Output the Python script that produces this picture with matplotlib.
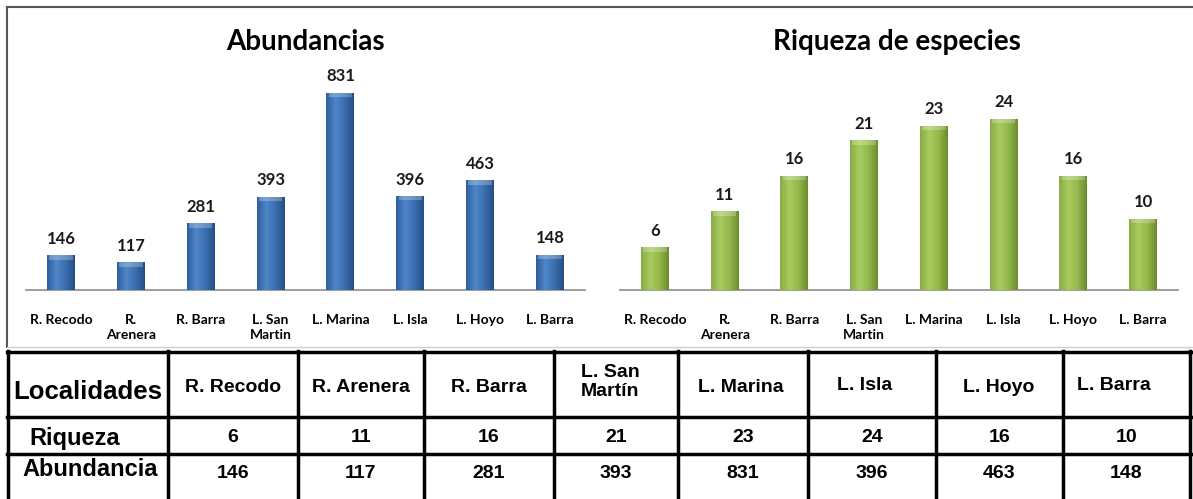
import matplotlib.pyplot as plt
import numpy as np
from matplotlib.colors import LinearSegmentedColormap
from matplotlib.patches import Rectangle
from matplotlib.lines import Line2D

# data
localidades = ["R. Recodo", "R.\nArenera", "R. Barra", "L. San\nMartin",
               "L. Marina", "L. Isla", "L. Hoyo", "L. Barra"]
abundancia = [146, 117, 281, 393, 831, 396, 463, 148]
riqueza = [6, 11, 16, 21, 23, 24, 16, 10]
tabla_cols = ["R. Recodo", "R. Arenera", "R. Barra", "L. San\nMartín",
              "L. Marina", "L. Isla", "L. Hoyo", "L. Barra"]

W, H = 1193, 499
fig = plt.figure(figsize=(W / 100, H / 100), dpi=100)
chart_font = "Lato"
table_font = "Liberation Sans"


def fx(px):
    return px / W


def fy(py):
    return 1 - py / H


def gradient_bars(ax, bars, colors):
    cmap = LinearSegmentedColormap.from_list("g", colors)
    grad = np.linspace(0, 1, 64).reshape(1, -1)
    for b in bars:
        x0, y0 = b.get_x(), b.get_y()
        w, h = b.get_width(), b.get_height()
        im = ax.imshow(grad, cmap=cmap, aspect="auto", extent=(x0, x0 + w, y0, y0 + h),
                       zorder=3, interpolation="bicubic")
        im.set_clip_path(b)
        # light bevel on top
        top = ax.get_ylim()[1] * 0.02
        ax.add_patch(Rectangle((x0 + w * 0.08, y0 + h - top), w * 0.84, top,
                               facecolor="white", alpha=0.25, edgecolor="none", zorder=4))


def bar_chart(rect, values, title, ymax, colors, title_x):
    ax = fig.add_axes(rect)
    x = np.arange(len(values))
    bars = ax.bar(x, values, width=0.4, color=colors[1], edgecolor="none", zorder=2)
    ax.set_xlim(-0.5, len(values) - 0.5)
    ax.set_ylim(0, ymax)
    gradient_bars(ax, bars, colors)
    for xi, v in zip(x, values):
        ax.annotate(str(v), (xi, v), xytext=(0, 6), textcoords="offset points",
                    ha="center", va="bottom", fontsize=12, fontweight="bold",
                    family=chart_font, color="#1a1a1a")
    ax.set_xticks(x)
    ax.set_xticklabels(localidades, fontsize=10, fontweight="bold", family=chart_font,
                       linespacing=1.3, va="top")
    ax.tick_params(axis="x", length=0, pad=17.5)
    ax.set_yticks([])
    for s in ["top", "right", "left"]:
        ax.spines[s].set_visible(False)
    ax.spines["bottom"].set_color("#8c8c8c")
    ax.spines["bottom"].set_linewidth(1.2)
    ax.set_facecolor("none")
    fig.text(fx(title_x), fy(42), title, ha="center", va="center", fontsize=20,
             fontweight="bold", family=chart_font)
    return ax


# outer frame of chart area
fig.add_artist(Line2D([fx(7), fx(W + 5)], [fy(7), fy(7)], color="#555555", lw=1.5))
fig.add_artist(Line2D([fx(7), fx(7)], [fy(7), fy(347)], color="#555555", lw=1.5))
fig.add_artist(Line2D([fx(7), fx(W)], [fy(347), fy(347)], color="#cfcfcf", lw=1.0))

blue = ["#2d5f9e", "#4f87c9", "#3a6eb0", "#254f85"]
green = ["#88ab45", "#a9cc5f", "#94b84c", "#6c8c2c"]
bar_chart([fx(26), fy(290), fx(585) - fx(26), fy(60) - fy(290)], abundancia,
          "Abundancias", 831 * 230 / 197.5, blue, 305)
bar_chart([fx(620), fy(290), fx(1178) - fx(620), fy(60) - fy(290)], riqueza,
          "Riqueza de especies", 24 * 230 / 171.5, green, 897)

# table
col_edges = [8, 168, 298, 424, 554, 678, 808, 936, 1063, 1190]
row_edges = [352, 417, 454, 505]
for xe in col_edges:
    fig.add_artist(Line2D([fx(xe), fx(xe)], [fy(row_edges[0] - 1), fy(row_edges[-1])],
                          color="black", lw=2.5))
for ye in row_edges[:-1]:
    fig.add_artist(Line2D([fx(col_edges[0] - 1), fx(col_edges[-1] + 1)], [fy(ye), fy(ye)],
                          color="black", lw=2.5))

header_x = [233, 361, 489, 581, 741, 865, 999, 1077]
header_y = [387, 387, 387, 382, 387, 386, 387, 386]
header_ha = ["center", "center", "center", "left", "center", "center", "center", "left"]
fig.text(fx(13), fy(392), "Localidades", ha="left", va="center", fontsize=18.5,
         fontweight="bold", family=table_font)
for name, xh, yh, ha in zip(tabla_cols, header_x, header_y, header_ha):
    fig.text(fx(xh), fy(yh), name, ha=ha, va="center", fontsize=14, fontweight="bold",
             family=table_font, linespacing=1.2)

fig.text(fx(29), fy(438), "Riqueza", ha="left", va="center", fontsize=17,
         fontweight="bold", family=table_font)
fig.text(fx(22), fy(470), "Abundancia", ha="left", va="center", fontsize=17,
         fontweight="bold", family=table_font)
centers = [(a + b) / 2 for a, b in zip(col_edges[1:-1], col_edges[2:])]
for c, r, a in zip(centers, riqueza, abundancia):
    fig.text(fx(c), fy(437), str(r), ha="center", va="center", fontsize=14,
             fontweight="bold", family=table_font)
    fig.text(fx(c), fy(474), str(a), ha="center", va="center", fontsize=14,
             fontweight="bold", family=table_font)

fig.savefig("out.png", dpi=100)
